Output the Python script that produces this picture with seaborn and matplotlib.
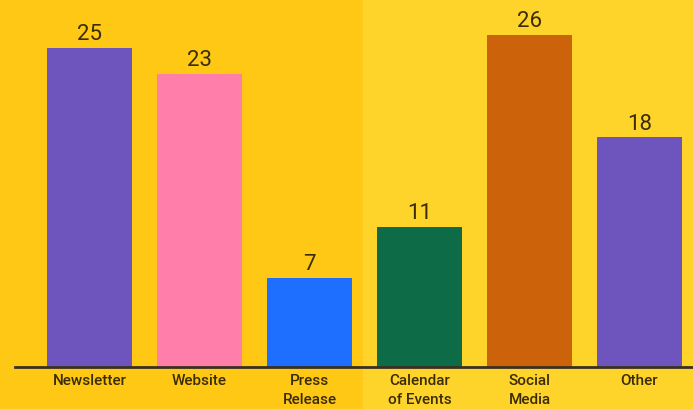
import matplotlib
matplotlib.use("Agg")
import matplotlib.pyplot as plt
import seaborn as sns
import pandas as pd
from matplotlib.patches import Rectangle

categories = ["Newsletter", "Website", "Press\nRelease", "Calendar\nof Events", "Social\nMedia", "Other"]
values = [25, 23, 7, 11, 26, 18]
colors = ["#6E55BE", "#FF7EAA", "#1E6EFF", "#0E6B47", "#CC620A", "#6E55BE"]

df = pd.DataFrame({"channel": categories, "count": values})

sns.set_theme(style="white")
plt.rcParams["font.family"] = ["Roboto", "DejaVu Sans"]

fig = plt.figure(figsize=(6.93, 4.09), dpi=100)
# two-tone background
fig.patches.append(Rectangle((0, 0), 363 / 693, 1, transform=fig.transFigure,
                             color="#FFC815", zorder=-10))
fig.patches.append(Rectangle((363 / 693, 0), 1 - 363 / 693, 1, transform=fig.transFigure,
                             color="#FFD42A", zorder=-10))

ax = fig.add_axes([15 / 693, 42 / 409, 678 / 693, 367 / 409])
ax.set_facecolor("none")

sns.barplot(data=df, x="channel", y="count", hue="channel", palette=colors,
            width=0.773, legend=False, saturation=1, linewidth=0, ax=ax)

for c in ax.containers:
    ax.bar_label(c, padding=2, fontsize=16, color="#3A2C05")

ax.set_xlim(-0.677, 5.486)
ax.set_ylim(0, 28.76)
ax.set_xlabel("")
ax.set_ylabel("")
ax.set_yticks([])
ax.tick_params(axis="x", length=0, pad=5, labelsize=11, labelcolor="#3A2C05")
for lab in ax.get_xticklabels():
    lab.set_linespacing(1.5)
    lab.set_fontweight("medium")

for s in ["top", "right", "left"]:
    ax.spines[s].set_visible(False)
ax.spines["bottom"].set_color("#3A3020")
ax.spines["bottom"].set_linewidth(2)

fig.savefig("out.png", dpi=100)
